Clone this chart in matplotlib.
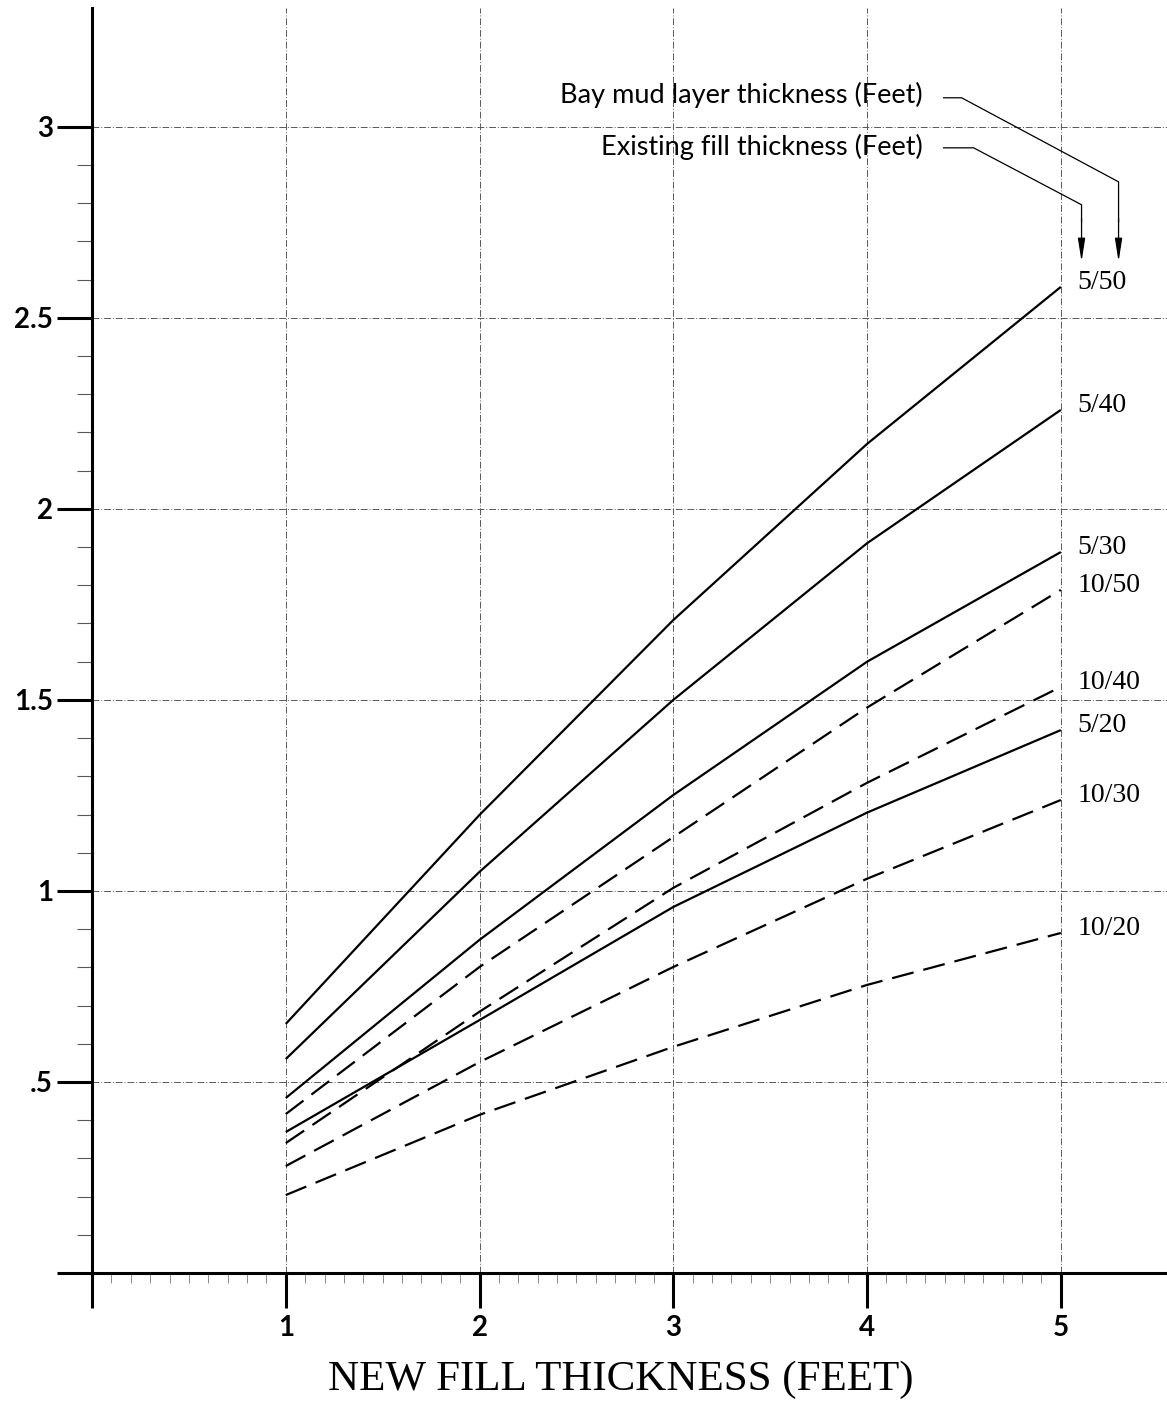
import numpy as np
from matplotlib import pyplot as plt
from matplotlib.ticker import FixedLocator

# new fill thickness (feet)
new_fill = [1, 2, 3, 4, 5]

# settlement curves, label = existing fill / bay mud thickness
settle_5_50 = [0.652, 1.199, 1.709, 2.170, 2.581]
settle_5_40 = [0.560, 1.050, 1.500, 1.910, 2.259]
settle_5_30 = [0.458, 0.872, 1.251, 1.600, 1.887]
settle_5_20 = [0.369, 0.662, 0.958, 1.205, 1.421]
settle_10_50 = [0.416, 0.801, 1.141, 1.480, 1.788]
settle_10_40 = [0.340, 0.684, 1.008, 1.283, 1.534]
settle_10_30 = [0.280, 0.552, 0.801, 1.032, 1.238]
settle_10_20 = [0.204, 0.414, 0.592, 0.754, 0.890]

solid_curves = [("5/50", settle_5_50), ("5/40", settle_5_40),
                ("5/30", settle_5_30), ("5/20", settle_5_20)]
dashed_curves = [("10/50", settle_10_50), ("10/40", settle_10_40),
                 ("10/30", settle_10_30), ("10/20", settle_10_20)]

y_ticks = [0, 0.5, 1, 1.5, 2, 2.5, 3]
y_ticklabels = ["", ".5", "1", "1.5", "2", "2.5", "3"]
x_ticks = [0, 1, 2, 3, 4, 5]
x_ticklabels = ["", "1", "2", "3", "4", "5"]

fig = plt.figure(figsize=(11.67, 14.05), dpi=100)
ax = fig.add_axes([92 / 1167, 132 / 1405, 1075 / 1167, 1265 / 1405])
ax.set_xlim(0, 5.548)
ax.set_ylim(0, 3.311)

for name, vals in solid_curves:
    ax.plot(new_fill, vals, color="black", lw=1.6, solid_capstyle="butt")
for name, vals in dashed_curves:
    ax.plot(new_fill, vals, color="black", lw=1.6, dashes=(10, 4.5),
            dash_capstyle="butt")

for name, vals in solid_curves + dashed_curves:
    ax.text(new_fill[-1] + 0.085, vals[-1] + 0.012, name, fontsize=20,
            family="Liberation Serif", va="center", ha="left")

# grid
for xv in x_ticks[1:]:
    ax.axvline(xv, color="0.35", lw=0.7, ls=(0, (7, 2, 1, 2)), zorder=0)
for yv in y_ticks[1:]:
    ax.axhline(yv, color="0.35", lw=0.7, ls=(0, (7, 2, 1, 2)), zorder=0)

# axes / ticks
for s in ["top", "right"]:
    ax.spines[s].set_visible(False)
ax.spines["left"].set_linewidth(2.2)
ax.spines["bottom"].set_linewidth(2.2)
ax.yaxis.set_major_locator(FixedLocator(y_ticks))
ax.set_yticklabels(y_ticklabels)
ax.xaxis.set_major_locator(FixedLocator(x_ticks))
ax.set_xticklabels(x_ticklabels)
ax.yaxis.set_minor_locator(FixedLocator([v / 10 for v in range(1, 30) if v % 5]))
ax.xaxis.set_minor_locator(FixedLocator([v / 10 for v in range(1, 50) if v % 10]))
ax.tick_params(axis="both", which="major", direction="out", length=25,
               width=2.2, labelsize=20)
ax.tick_params(axis="y", which="major", pad=3)
ax.tick_params(axis="x", which="major", pad=5)
ax.tick_params(axis="y", which="minor", direction="out", length=11,
               width=0.8, color="0.35")
ax.tick_params(axis="x", which="minor", direction="out", length=7,
               width=0.7, color="0.55")
for lab in ax.get_xticklabels() + ax.get_yticklabels():
    lab.set_family("Lato")
    lab.set_weight("bold")

ax.set_xlabel("NEW FILL THICKNESS (FEET)", family="Liberation Serif",
              fontsize=31)
ax.xaxis.set_label_coords(0.492, -0.069)

# leader annotations
ax.text(4.286, 3.084, "Bay mud layer thickness (Feet)", family="Lato",
        fontsize=19.5, ha="right", va="center")
ax.text(4.286, 2.948, "Existing fill thickness (Feet)", family="Lato",
        fontsize=19.5, ha="right", va="center")
ax.plot([4.395, 4.488, 5.298, 5.298], [3.076, 3.076, 2.856, 2.75],
        color="black", lw=0.9)
ax.plot([4.395, 4.55, 5.107, 5.107], [2.945, 2.945, 2.796, 2.75],
        color="black", lw=0.9)
for xa in [5.298, 5.107]:
    ax.annotate("", xy=(xa, 2.647), xytext=(xa, 2.76),
                arrowprops=dict(arrowstyle="-|>,head_length=1.4,head_width=0.22",
                                lw=0.9, color="black", shrinkA=0, shrinkB=0))

plt.savefig("out.png")
